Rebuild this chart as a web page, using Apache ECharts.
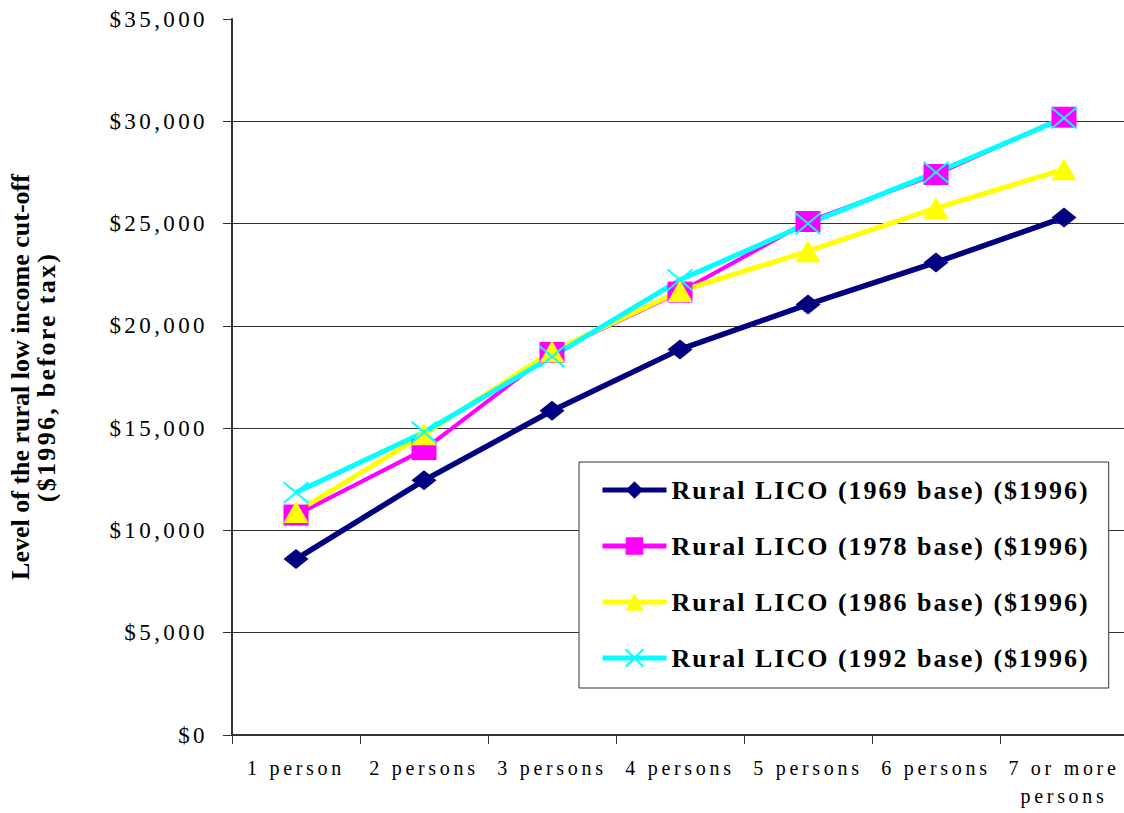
<!DOCTYPE html>
<html>
<head>
<meta charset="utf-8">
<script src="https://cdn.jsdelivr.net/npm/echarts@6.0.0/dist/echarts.min.js"></script>
<style>
  html, body { margin: 0; padding: 0; background: #fff; }
  #chart { width: 1124px; height: 813px; }
</style>
</head>
<body>
<div id="chart"></div>
<script>
// Household size categories
const categories = ['1 person', '2 persons', '3 persons', '4 persons', '5 persons', '6 persons', '7 or more\npersons'];

// Rural low income cut-offs in 1996 dollars, by base year
const lico1969 = [8600, 12450, 15850, 18850, 21050, 23100, 25300];
const lico1978 = [10750, 13950, 18700, 21650, 25100, 27400, 30200];
const lico1986 = [10900, 14700, 18750, 21700, 23650, 25750, 27650];
const lico1992 = [11850, 14800, 18500, 22250, 25000, 27500, 30150];

const seriesNames = [
  'Rural LICO (1969 base) ($1996)',
  'Rural LICO (1978 base) ($1996)',
  'Rural LICO (1986 base) ($1996)',
  'Rural LICO (1992 base) ($1996)'
];

// Y axis range and step
const yMin = 0;
const yMax = 35000;
const yStep = 5000;

const yTitle = 'Level of the rural low income cut-off\n($1996, before tax)';

const serif = '"Liberation Serif", "Times New Roman", serif';

const chart = echarts.init(document.getElementById('chart'), null, { renderer: 'svg' });

function lineSeries(name, data, color, width, symbol, size, extraItem) {
  return {
    name: name,
    type: 'line',
    data: data,
    symbol: symbol,
    symbolSize: size,
    showSymbol: true,
    lineStyle: { color: color, width: width },
    itemStyle: Object.assign({ color: color }, extraItem || {}),
    emphasis: { disabled: true },
    animation: false
  };
}

chart.setOption({
  animation: false,
  backgroundColor: '#ffffff',
  grid: { left: 232, right: -4, top: 19, bottom: 78, containLabel: false, outerBoundsMode: 'none' },
  xAxis: {
    type: 'category',
    data: categories,
    boundaryGap: true,
    axisLine: { lineStyle: { color: '#333', width: 2 } },
    axisTick: { show: true, length: 9, inside: false, interval: 0, lineStyle: { color: '#333', width: 1 } },
    axisLabel: {
      interval: 0,
      margin: 19,
      fontFamily: serif,
      fontSize: 20,
      lineHeight: 28,
      color: '#000'
    },
    splitLine: { show: false }
  },
  yAxis: {
    type: 'value',
    min: yMin,
    max: yMax,
    interval: yStep,
    name: yTitle,
    nameLocation: 'middle',
    nameGap: 173,
    nameRotate: 90,
    nameTextStyle: {
      fontFamily: serif,
      fontWeight: 'bold',
      fontSize: 26,
      lineHeight: 26,
      color: '#000',
      align: 'center'
    },
    axisLine: { show: true, lineStyle: { color: '#333', width: 2 } },
    axisTick: { show: true, length: 9, inside: false, lineStyle: { color: '#333', width: 1 } },
    axisLabel: {
      margin: 24,
      fontFamily: serif,
      fontSize: 23,
      color: '#000',
      formatter: function (v) { return '$' + v.toLocaleString('en-US'); }
    },
    splitLine: { show: true, showMaxLine: false, lineStyle: { color: '#333', width: 1 } }
  },
  legend: {
    orient: 'vertical',
    left: 579,
    top: 462,
    padding: [15, 79, 17, 21],
    itemWidth: 64,
    itemHeight: 22,
    itemGap: 30,
    backgroundColor: '#fff',
    borderColor: '#333',
    borderWidth: 1,
    borderRadius: 0,
    selectedMode: false,
    lineStyle: { width: 5 },
    textStyle: {
      fontFamily: serif,
      fontWeight: 'bold',
      fontSize: 26,
      lineHeight: 22,
      color: '#000'
    },
    data: seriesNames
  },
  series: [
    lineSeries(seriesNames[0], lico1969, '#000080', 5.5, 'diamond', [25, 20]),
    lineSeries(seriesNames[1], lico1978, '#FF00FF', 4, 'rect', [25, 21]),
    lineSeries(seriesNames[2], lico1986, '#FFFF00', 5, 'triangle', [25, 22]),
    lineSeries(seriesNames[3], lico1992, '#00FFFF', 5, 'path://M0,0L10,10M10,0L0,10', [25, 21],
      { borderColor: '#00FFFF', borderWidth: 2 })
  ]
});

// Widen the tracking of axis, legend and second title line text
function applyTracking() {
  const nodes = document.querySelectorAll('#chart svg text');
  nodes.forEach(function (t) {
    const s = t.textContent || '';
    if (s.indexOf('rural low') >= 0) return;
    if (s.indexOf('before tax') >= 0) t.style.letterSpacing = '2.3px';
    else if (s.charAt(0) === '$') t.style.letterSpacing = '3.4px';
    else if (s.indexOf('Rural') === 0) t.style.letterSpacing = '2px';
    else t.style.letterSpacing = '3.7px';
  });
}
applyTracking();
chart.on('finished', applyTracking);
</script>
</body>
</html>
